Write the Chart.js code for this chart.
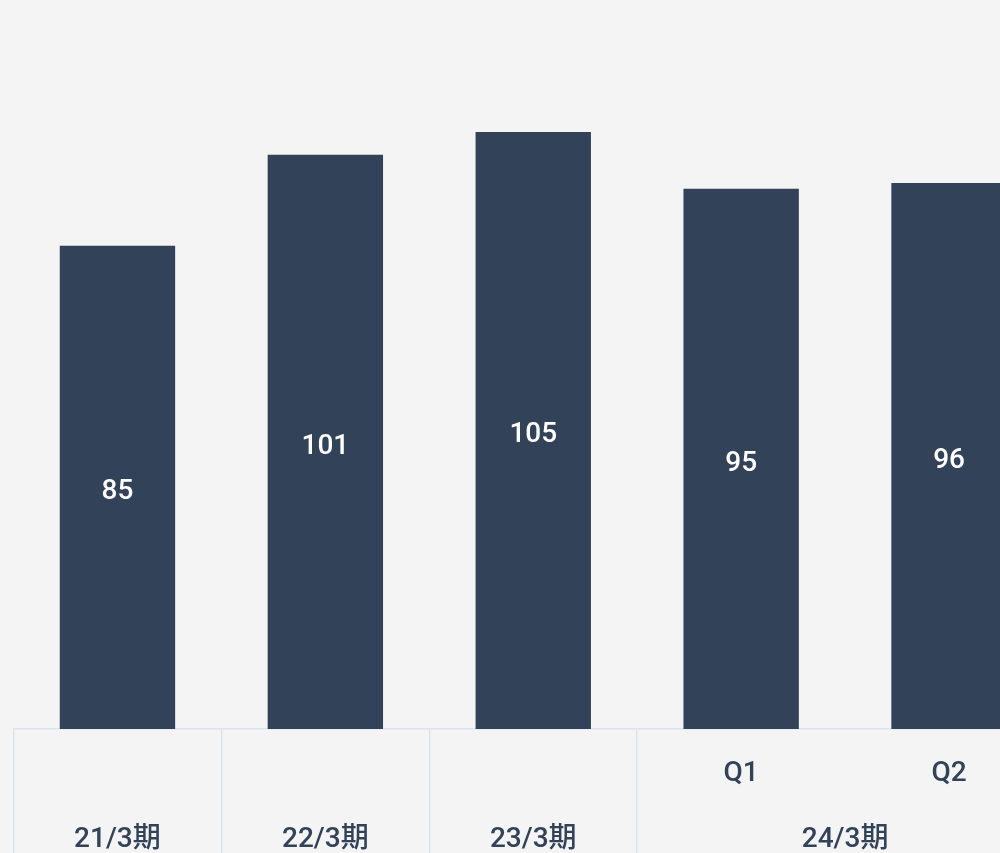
<!DOCTYPE html>
<html>
<head>
<meta charset="utf-8">
<script src="https://cdn.jsdelivr.net/npm/chart.js@4"></script>
<style>
  html, body { margin: 0; padding: 0; background: #f4f4f4; overflow: hidden; }
  #wrap { width: 1066px; height: 853px; }
</style>
</head>
<body>
<div id="wrap"><canvas id="chart" width="1066" height="853"></canvas></div>
<script>
const categories = ['21/3期', '22/3期', '23/3期', '24/3期 Q1', '24/3期 Q2'];
const quarterLabels = ['', '', '', 'Q1', 'Q2'];
const periodLabels = ['21/3期', '22/3期', '23/3期', '24/3期'];
const periodSpans = [[0, 0], [1, 1], [2, 2], [3, 4]];
const values = [85, 101, 105, 95, 96];

const NAVY = '#314259';
const GRID = '#dde3ec';
const FONT = "Roboto, 'Noto Sans CJK JP', sans-serif";

// white value labels centred in each bar
const barLabels = {
  id: 'barLabels',
  afterDatasetsDraw(chart) {
    const { ctx } = chart;
    const meta = chart.getDatasetMeta(0);
    ctx.save();
    ctx.fillStyle = '#ffffff';
    ctx.font = `500 28px ${FONT}`;
    ctx.textAlign = 'center';
    ctx.textBaseline = 'middle';
    meta.data.forEach((bar, i) => {
      ctx.fillText(String(values[i]), bar.x, (bar.y + bar.base) / 2 + 5);
    });
    ctx.restore();
  },
};

// two rows of x labels: quarters, then fiscal periods spanning their columns
const axisLabels = {
  id: 'axisLabels',
  afterDraw(chart) {
    const { ctx } = chart;
    const x = chart.scales.x;
    ctx.save();
    ctx.fillStyle = NAVY;
    ctx.textAlign = 'center';
    ctx.textBaseline = 'middle';
    ctx.font = `500 28px ${FONT}`;
    quarterLabels.forEach((q, i) => {
      if (q) ctx.fillText(q, x.getPixelForValue(i), x.top + 45);
    });
    periodLabels.forEach((p, i) => {
      const [a, b] = periodSpans[i];
      const cx = (x.getPixelForValue(a) + x.getPixelForValue(b)) / 2;
      ctx.fillText(p, cx, x.top + 111);
    });
    ctx.restore();
  },
};

new Chart(document.getElementById('chart'), {
  type: 'bar',
  data: {
    labels: categories,
    datasets: [{
      data: values,
      backgroundColor: NAVY,
      barPercentage: 0.555,
      categoryPercentage: 1,
    }],
  },
  options: {
    responsive: false,
    animation: false,
    devicePixelRatio: 1,
    layout: { padding: { left: 13.5, right: 13, top: 0, bottom: 0 } },
    plugins: {
      legend: { display: false },
      tooltip: { enabled: false },
    },
    scales: {
      x: {
        offset: true,
        grid: {
          offset: true,
          drawOnChartArea: false,
          drawTicks: true,
          tickLength: 130,
          lineWidth: 1.5,
          color: (c) => (c.index === 4 ? 'rgba(0,0,0,0)' : GRID),
          tickColor: (c) => (c.index === 4 ? 'rgba(0,0,0,0)' : GRID),
        },
        border: { display: true, color: GRID, width: 1.5 },
        ticks: { display: false },
        afterFit: (scale) => { scale.height = 124; },
      },
      y: {
        display: false,
        min: 0,
        max: 128.2,
      },
    },
  },
  plugins: [barLabels, axisLabels],
});
</script>
</body>
</html>
